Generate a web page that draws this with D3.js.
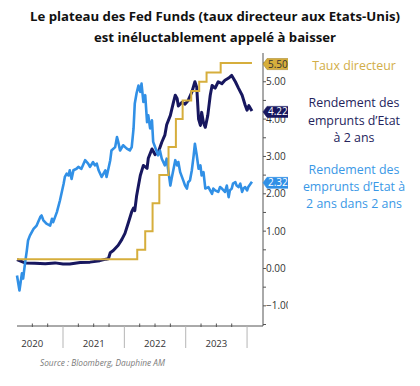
<!DOCTYPE html>
<html>
<head>
<meta charset="utf-8">
<script src="https://cdn.jsdelivr.net/npm/d3@7"></script>
<style>
  body { margin: 0; background: #fff; }
  svg { display: block; font-family: "Open Sans", sans-serif; }
</style>
</head>
<body>
<div id="chartArea"></div>
<script>
// data (decimal years)

const fedT = [2020.25, 2022.21, 2022.34, 2022.46, 2022.57, 2022.72, 2022.84, 2022.95, 2023.09, 2023.22, 2023.34, 2023.57, 2024.08];
const fedV = [0.25, 0.5, 1.0, 1.75, 2.5, 3.25, 4.0, 4.5, 4.75, 5.0, 5.25, 5.5, 5.5];

const twoYT = [2020.25, 2020.38, 2020.54, 2020.71, 2020.87, 2021.0, 2021.11, 2021.28, 2021.44, 2021.6, 2021.7, 2021.74,
  2021.77, 2021.82, 2021.9, 2021.96, 2022.01, 2022.07, 2022.12, 2022.15, 2022.17, 2022.2, 2022.23, 2022.26, 2022.31,
  2022.37, 2022.39, 2022.45, 2022.5, 2022.55, 2022.61, 2022.66, 2022.69, 2022.75, 2022.8, 2022.83, 2022.86, 2022.88,
  2022.94, 2022.99, 2023.04, 2023.1, 2023.15, 2023.18, 2023.21, 2023.24, 2023.26, 2023.29, 2023.32, 2023.36, 2023.4,
  2023.43, 2023.48, 2023.53, 2023.59, 2023.64, 2023.7, 2023.75, 2023.81, 2023.86, 2023.92, 2023.97, 2024.0, 2024.03, 2024.08];
const twoYV = [0.24, 0.15, 0.14, 0.13, 0.15, 0.12, 0.12, 0.16, 0.17, 0.21, 0.25, 0.26,
  0.42, 0.48, 0.62, 0.78, 0.94, 1.25, 1.52, 1.62, 1.55, 1.95, 2.22, 2.49, 2.76,
  2.68, 2.95, 3.2, 3.05, 3.1, 3.38, 3.57, 3.85, 4.1, 4.45, 4.64, 4.55, 4.35,
  4.45, 4.4, 4.5, 4.72, 5.0, 4.85, 4.0, 3.83, 4.18, 3.9, 3.78, 4.1, 4.64,
  4.9, 4.83, 5.0, 4.95, 5.04, 5.1, 5.17, 5.0, 4.83, 4.64, 4.37, 4.24, 4.36, 4.22];

const fwdT = [2020.25, 2020.29, 2020.33, 2020.35, 2020.38, 2020.41, 2020.43, 2020.46, 2020.52, 2020.57, 2020.63, 2020.65,
  2020.68, 2020.73, 2020.79, 2020.82, 2020.84, 2020.9, 2020.95, 2021.01, 2021.03, 2021.06, 2021.09, 2021.11, 2021.14,
  2021.17, 2021.22, 2021.25, 2021.3, 2021.36, 2021.41, 2021.44, 2021.49, 2021.52, 2021.55, 2021.58, 2021.63, 2021.66,
  2021.69, 2021.71, 2021.74, 2021.77, 2021.79, 2021.85, 2021.88, 2021.9, 2021.93, 2021.98, 2022.04, 2022.09, 2022.12,
  2022.15, 2022.17, 2022.2, 2022.23, 2022.26, 2022.28, 2022.31, 2022.34, 2022.37, 2022.39, 2022.42, 2022.45, 2022.47,
  2022.53, 2022.55, 2022.58, 2022.61, 2022.66, 2022.69, 2022.72, 2022.75, 2022.77, 2022.83, 2022.86, 2022.88, 2022.91,
  2022.96, 2022.99, 2023.02, 2023.04, 2023.07, 2023.1, 2023.13, 2023.15, 2023.18, 2023.21, 2023.24, 2023.26, 2023.29,
  2023.32, 2023.37, 2023.43, 2023.45, 2023.48, 2023.53, 2023.56, 2023.59, 2023.64, 2023.67, 2023.7, 2023.72, 2023.75,
  2023.77, 2023.81, 2023.83, 2023.86, 2023.89, 2023.92, 2023.94, 2023.97, 2024.0, 2024.02, 2024.08];
const fwdV = [-0.19, -0.59, -0.13, -0.27, 0.13, 0.48, 0.75, 0.88, 1.06, 1.15, 1.38, 1.42,
  1.29, 1.2, 1.15, 1.33, 1.24, 1.51, 1.82, 2.27, 2.45, 2.54, 2.49, 2.63, 2.4,
  2.63, 2.67, 2.72, 2.67, 2.9, 2.81, 2.72, 2.85, 2.76, 2.81, 2.63, 2.45, 2.54,
  2.63, 2.45, 2.67, 2.9, 3.16, 3.25, 3.52, 3.39, 3.16, 3.3, 3.21, 3.16, 3.25,
  3.75, 4.42, 4.7, 4.9, 4.73, 4.95, 4.46, 4.64, 3.92, 4.1, 3.75, 3.97, 3.39,
  3.12, 3.03, 3.16, 2.94, 2.76, 2.94, 2.58, 2.22, 2.4, 2.9, 2.76, 2.85, 2.58,
  2.36, 2.22, 2.14, 2.31, 2.36, 2.63, 3.03, 3.34, 3.03, 2.67, 2.76, 2.49, 2.58,
  2.14, 2.18, 2.0, 2.14, 2.09, 2.05, 2.18, 2.14, 2.05, 2.22, 1.91, 2.09, 2.14,
  2.27, 2.31, 2.22, 2.18, 2.27, 2.05, 2.14, 2.18, 2.09, 2.18, 2.32];

const years = [2020, 2021, 2022, 2023];
const yTicks = [-1, 0, 1, 2, 3, 4, 5];
const lastTags = [5.5, 4.22, 2.32];

const titleLines = ["Le plateau des Fed Funds (taux directeur aux Etats-Unis)", "est inéluctablement appelé à baisser"];
const legendFed = ["Taux directeur"];
const legendTwoY = ["Rendement des", "emprunts d\u2019Etat", "à 2 ans"];
const legendFwd = ["Rendement des", "emprunts d\u2019Etat à", "2 ans dans 2 ans"];
const sourceText = "Source : Bloomberg, Dauphine AM";

// colours

const gold = "#d6ae3c";
const navy = "#17175f";
const blue = "#3190e6";
const axisColor = "#555";

// chart

const chart = {};
chart.width = 420;
chart.height = 386;
chart.left = 17;
chart.right = 263;
chart.top = 53;
chart.bottom = 326;

chart.svg = d3.select("#chartArea").append("svg")
  .attr("width", chart.width)
  .attr("height", chart.height);

const x = d3.scaleLinear([2020.25, 2024.26], [chart.left, chart.right]);
const y = d3.scaleLinear([-1.54, 5.77], [chart.bottom, chart.top]);

// title
chart.svg.selectAll(".title")
  .data(titleLines)
  .join("text")
  .attr("class", "title")
  .attr("x", 215)
  .attr("y", (d, i) => 20.5 + i * 21)
  .attr("text-anchor", "middle")
  .attr("font-size", 12.6)
  .attr("font-weight", "bold")
  .attr("fill", "#111")
  .attr("textLength", (d, i) => (i == 0 ? 370 : 242))
  .attr("lengthAdjust", "spacingAndGlyphs")
  .text((d) => d);

// x axis: line, year separators, quarter ticks, labels
chart.svg.append("line")
  .attr("x1", chart.left).attr("x2", chart.right)
  .attr("y1", chart.bottom).attr("y2", chart.bottom)
  .attr("stroke", axisColor).attr("stroke-width", 1);

const yearBounds = years.slice(1).concat([2024]);
chart.svg.append("g")
  .selectAll("line")
  .data(yearBounds)
  .join("line")
  .attr("x1", (d) => x(d)).attr("x2", (d) => x(d))
  .attr("y1", chart.bottom).attr("y2", chart.bottom + 22)
  .attr("stroke", "#b5b5b5").attr("stroke-width", 1);

const quarters = d3.range(2020.5, 2024.1, 0.25).filter((q) => q % 1 != 0);
chart.svg.append("g")
  .selectAll("line")
  .data(quarters)
  .join("line")
  .attr("x1", (d) => x(d)).attr("x2", (d) => x(d))
  .attr("y1", chart.bottom - 2.5).attr("y2", chart.bottom + 1)
  .attr("stroke", axisColor).attr("stroke-width", 1);

chart.svg.append("g")
  .selectAll("text")
  .data(years)
  .join("text")
  .attr("x", (d) => x(d + 0.5))
  .attr("y", chart.bottom + 21)
  .attr("text-anchor", "middle")
  .attr("font-size", 9.6)
  .attr("fill", "#333")
  .text((d) => d);

// right axis, clipped like the original image
chart.svg.append("clipPath").attr("id", "rightClip")
  .append("rect").attr("x", 0).attr("y", 0).attr("width", 288).attr("height", chart.height);

const rightG = chart.svg.append("g").attr("clip-path", "url(#rightClip)");

rightG.append("line")
  .attr("x1", chart.right).attr("x2", chart.right)
  .attr("y1", chart.top).attr("y2", chart.bottom)
  .attr("stroke", axisColor).attr("stroke-width", 1);

const halfTicks = d3.range(-1.5, 5.75, 0.5);
rightG.append("g")
  .selectAll("line")
  .data(halfTicks)
  .join("line")
  .attr("x1", chart.right).attr("x2", chart.right + 3)
  .attr("y1", (d) => y(d)).attr("y2", (d) => y(d))
  .attr("stroke", axisColor).attr("stroke-width", 1);

rightG.append("g")
  .selectAll("text")
  .data(yTicks)
  .join("text")
  .attr("x", chart.right + 3)
  .attr("y", (d) => y(d))
  .attr("dy", "0.35em")
  .attr("font-size", 10)
  .attr("fill", "#333")
  .text((d) => d3.format(".2f")(d));

// lines
const lineGen = d3.line().x((d) => x(d[0])).y((d) => y(d[1]));

const plotG = chart.svg.append("g");

plotG.append("path")
  .datum(d3.zip(twoYT, twoYV))
  .attr("d", lineGen)
  .attr("fill", "none")
  .attr("stroke", navy)
  .attr("stroke-width", 3)
  .attr("stroke-linejoin", "round");

plotG.append("path")
  .datum(d3.zip(fwdT, fwdV))
  .attr("d", lineGen)
  .attr("fill", "none")
  .attr("stroke", blue)
  .attr("stroke-width", 2.6)
  .attr("stroke-linejoin", "round");

plotG.append("path")
  .datum(d3.zip(fedT, fedV))
  .attr("d", lineGen.curve(d3.curveStepAfter))
  .attr("fill", "none")
  .attr("stroke", gold)
  .attr("stroke-width", 2);

// last value tags
const tagColors = [gold, navy, blue];
const tagText = ["#333", "#fff", "#fff"];
const tag = rightG.selectAll(".tag")
  .data(lastTags)
  .join("g")
  .attr("class", "tag")
  .attr("transform", (d) => `translate(${chart.right},${y(d) + 1})`);

tag.append("path")
  .attr("d", "M0,0 L4,-5.5 L30,-5.5 L30,5.5 L4,5.5 Z")
  .attr("fill", (d, i) => tagColors[i])
  .attr("stroke", (d, i) => (i == 0 ? "#a88a2a" : tagColors[i]))
  .attr("stroke-width", 0.6);

tag.append("text")
  .attr("x", 5)
  .attr("dy", "0.36em")
  .attr("font-size", 10)
  .attr("fill", (d, i) => tagText[i])
  .text((d) => d3.format(".2f")(d));

// legend text on the right
function legendBlock(lines, color, y0) {
  chart.svg.append("g")
    .selectAll("text")
    .data(lines)
    .join("text")
    .attr("x", 354)
    .attr("y", (d, i) => y0 + i * 17.2)
    .attr("text-anchor", "middle")
    .attr("font-size", 12.4)
    .attr("fill", color)
    .text((d) => d);
}
legendBlock(legendFed, "#d2ae48", 69.5);
legendBlock(legendTwoY, "#24245c", 107.3);
legendBlock(legendFwd, "#3a98e6", 174);

// source
chart.svg.append("text")
  .attr("x", 40)
  .attr("y", 365.5)
  .attr("font-size", 8.3)
  .attr("font-style", "italic")
  .attr("fill", "#7a7a7a")
  .text(sourceText);
</script>
</body>
</html>
